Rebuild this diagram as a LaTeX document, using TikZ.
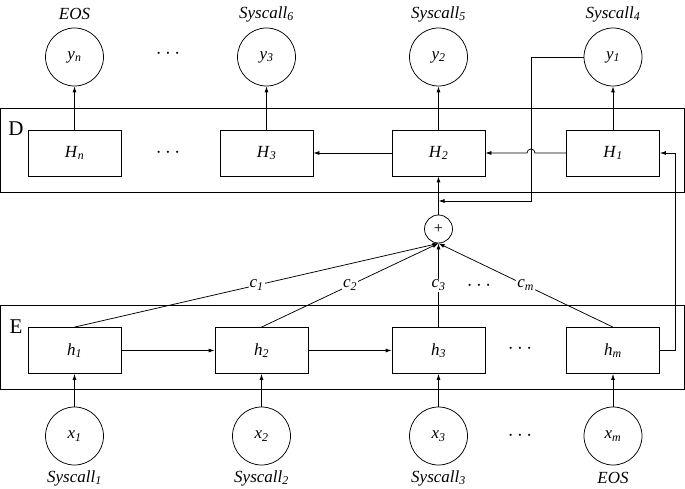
\documentclass[tikz,border=0pt]{standalone}
\usepackage{fontspec}
\setmainfont{Liberation Serif}
\usetikzlibrary{arrows.meta}
\newcommand\isub[2]{\textit{#1}\textsubscript{\textit{#2}}}
\begin{document}
\begin{tikzpicture}[x=1pt,y=-1pt, line width=0.75pt,
  fnt/.style={font=\fontsize{17}{19}\selectfont},
  hbox/.style={draw, fnt, minimum width=93pt, minimum height=46pt, inner sep=0pt},
  circ/.style={draw, circle, fnt, minimum size=58pt, inner sep=0pt},
  lab/.style={fnt},
  arr/.style={-{Latex[length=6pt,width=4pt]}},
  clab/.style={fill=white, inner sep=1pt, fnt},
  outer/.style={draw, minimum width=683.5pt, minimum height=84pt, inner sep=0pt},
  big/.style={font=\fontsize{21}{23}\selectfont},
  dots/.style={font=\fontsize{21}{23}\selectfont}]
\useasboundingbox (0,0) rectangle (685,489);
% outer boxes
\node[outer] (Dbox) at (342.2,150) {};
\node[outer] (Ebox) at (342.2,347) {};
\node[big] (Dl) at (16,129) {D};
\node[big] (El) at (16,327) {E};
% decoder boxes
\node[hbox] (Hn) at (74.5,153) {\isub{H}{n}};
\node[hbox] (H3) at (266.5,153) {\isub{H}{3}};
\node[hbox] (H2) at (438.5,153) {\isub{H}{2}};
\node[hbox] (H1) at (613,153) {\isub{H}{1}};
\node[dots] (dD) at (168,153) {$\cdots$};
% outputs
\node[circ] (yn) at (74.5,57) {\isub{y}{n}};
\node[circ] (y3) at (266.5,57) {\isub{y}{3}};
\node[circ] (y2) at (438.5,57) {\isub{y}{2}};
\node[circ] (y1) at (613,57) {\isub{y}{1}};
\node[dots] (dy) at (168,54) {$\cdots$};
\node[lab] (ln) at (74.5,14) {\textit{EOS}};
\node[lab] (l6) at (266.5,14) {\isub{Syscall}{6}};
\node[lab] (l5) at (438.5,14) {\isub{Syscall}{5}};
\node[lab] (l4) at (613,14) {\isub{Syscall}{4}};
% encoder boxes
\node[hbox] (h1) at (74.5,350.5) {\isub{h}{1}};
\node[hbox] (h2) at (261.5,350.5) {\isub{h}{2}};
\node[hbox] (h3) at (438.5,350.5) {\isub{h}{3}};
\node[hbox] (hm) at (613,350.5) {\isub{h}{m}};
\node[dots] (dE) at (520,349) {$\cdots$};
% inputs
\node[circ] (x1) at (74.5,436) {\isub{x}{1}};
\node[circ] (x2) at (261.5,436) {\isub{x}{2}};
\node[circ] (x3) at (438.5,436) {\isub{x}{3}};
\node[circ] (xm) at (613,436) {\isub{x}{m}};
\node[dots] (dx) at (520,436) {$\cdots$};
\node[lab] (s1) at (74.5,478) {\isub{Syscall}{1}};
\node[lab] (s2) at (261.5,478) {\isub{Syscall}{2}};
\node[lab] (s3) at (438.5,478) {\isub{Syscall}{3}};
\node[lab] (sm) at (613,478) {\textit{EOS}};
% plus
\node[draw, circle, minimum size=28pt, inner sep=0pt, font=\fontsize{16}{18}\selectfont] (plus) at (438.5,229) {+};
\node[dots] (dc) at (479,286) {$\cdots$};
% connectors
\foreach \a/\b in {x1/h1,x2/h2,x3/h3,xm/hm,Hn/yn,H3/y3,H2/y2,H1/y1}
  \draw[arr] (\a) -- (\b);
\draw[arr] (h1) -- (h2);
\draw[arr] (h2) -- (h3);
\draw[arr] (H2) -- (H3);
\draw[arr] (h1.north) -- node[clab] {\isub{c}{1}} (plus.south);
\draw[arr] (h2.north) -- node[clab] {\isub{c}{2}} (plus.south);
\draw[arr] (h3.north) -- node[clab] {\isub{c}{3}} (plus.south);
\draw[arr] (hm.north) -- node[clab] {\isub{c}{m}} (plus.south);
\draw[arr] (plus.north) -- (H2.south);
\coordinate (fb) at (438.5,201);
\draw[arr] (y1.west) -- (531,57) -- (531,201) -- (fb);
\draw[arr] (H1.west) -- (535,153) arc[start angle=0, end angle=180, radius=4pt] -- (H2.east);
\draw[arr] (hm.east) -- (675,350.5) -- (675,153) -- (H1.east);
\end{tikzpicture}
\end{document}
